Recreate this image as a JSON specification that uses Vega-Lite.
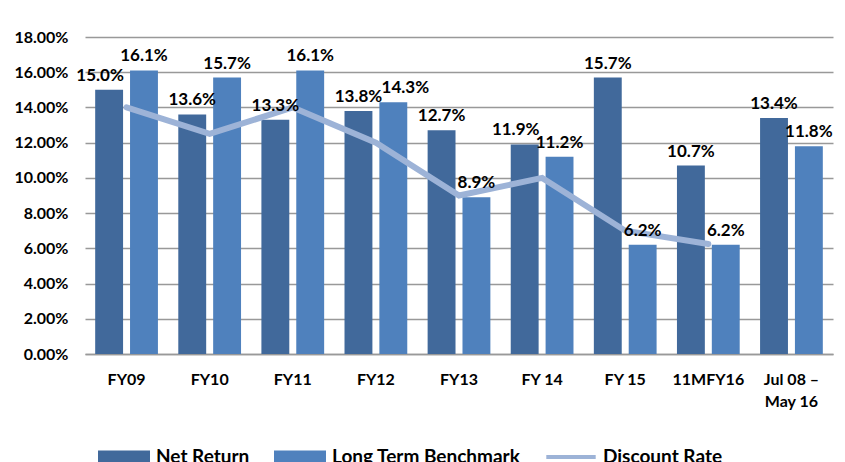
{
  "$schema": "https://vega.github.io/schema/vega-lite/v6.json",
  "width": 748,
  "height": 317,
  "autosize": {"type": "none"},
  "padding": {"left": 85, "top": 37, "right": 12, "bottom": 108},
  "config": {"font": "Lato", "view": {"stroke": null}},
  "datasets": {
    "bars": [
      {"period": "FY09", "series": "Net Return", "value": 0.150},
      {"period": "FY09", "series": "Long Term Benchmark", "value": 0.161},
      {"period": "FY10", "series": "Net Return", "value": 0.136},
      {"period": "FY10", "series": "Long Term Benchmark", "value": 0.157},
      {"period": "FY11", "series": "Net Return", "value": 0.133},
      {"period": "FY11", "series": "Long Term Benchmark", "value": 0.161},
      {"period": "FY12", "series": "Net Return", "value": 0.138},
      {"period": "FY12", "series": "Long Term Benchmark", "value": 0.143},
      {"period": "FY13", "series": "Net Return", "value": 0.127},
      {"period": "FY13", "series": "Long Term Benchmark", "value": 0.089},
      {"period": "FY 14", "series": "Net Return", "value": 0.119},
      {"period": "FY 14", "series": "Long Term Benchmark", "value": 0.112},
      {"period": "FY 15", "series": "Net Return", "value": 0.157},
      {"period": "FY 15", "series": "Long Term Benchmark", "value": 0.062},
      {"period": "11MFY16", "series": "Net Return", "value": 0.107},
      {"period": "11MFY16", "series": "Long Term Benchmark", "value": 0.062},
      {"period": "Jul 08 – May 16", "series": "Net Return", "value": 0.134},
      {"period": "Jul 08 – May 16", "series": "Long Term Benchmark", "value": 0.118}
    ],
    "rate": [
      {"period": "FY09", "series": "Discount Rate", "value": 0.14},
      {"period": "FY10", "series": "Discount Rate", "value": 0.125},
      {"period": "FY11", "series": "Discount Rate", "value": 0.14},
      {"period": "FY12", "series": "Discount Rate", "value": 0.12},
      {"period": "FY13", "series": "Discount Rate", "value": 0.09},
      {"period": "FY 14", "series": "Discount Rate", "value": 0.10},
      {"period": "FY 15", "series": "Discount Rate", "value": 0.07},
      {"period": "11MFY16", "series": "Discount Rate", "value": 0.0625}
    ]
  },
  "encoding": {
    "x": {
      "field": "period",
      "type": "nominal",
      "sort": ["FY09", "FY10", "FY11", "FY12", "FY13", "FY 14", "FY 15", "11MFY16", "Jul 08 – May 16"],
      "scale": {"paddingInner": 0.245, "paddingOuter": 0.1225},
      "axis": {
        "title": null,
        "labelAngle": 0,
        "labelFontSize": 16,
        "labelFontWeight": "bold",
        "labelColor": "#000000",
        "labelPadding": 17,
        "labelBaseline": "top",
        "labelLineHeight": 22,
        "labelExpr": "datum.label == 'Jul 08 – May 16' ? ['Jul 08 –', 'May 16'] : datum.label",
        "ticks": false,
        "domain": true,
        "domainColor": "#999999",
        "domainWidth": 1.5,
        "grid": false
      }
    },
    "y": {
      "field": "value",
      "type": "quantitative",
      "scale": {"domain": [0, 0.18], "nice": false},
      "axis": {
        "title": null,
        "values": [0, 0.02, 0.04, 0.06, 0.08, 0.10, 0.12, 0.14, 0.16, 0.18],
        "format": ".2%",
        "labelFontSize": 16,
        "labelFontWeight": "bold",
        "labelColor": "#000000",
        "labelPadding": 17,
        "ticks": false,
        "domain": false,
        "grid": true,
        "gridColor": "#999999",
        "gridWidth": 1.5
      }
    },
    "xOffset": {
      "field": "series",
      "type": "nominal",
      "sort": ["Net Return", "Long Term Benchmark"],
      "scale": {"paddingInner": 0.2, "paddingOuter": 0}
    }
  },
  "layer": [
    {
      "data": {"name": "bars"},
      "mark": {"type": "bar"},
      "encoding": {
        "color": {
          "field": "series",
          "type": "nominal",
          "scale": {
            "domain": ["Net Return", "Long Term Benchmark", "Discount Rate"],
            "range": ["#41699B", "#4F81BD", "#9DB3D7"]
          },
          "legend": {
            "title": null,
            "orient": "none",
            "direction": "horizontal",
            "legendX": 13,
            "legendY": 394,
            "labelFontSize": 19,
            "labelFontWeight": "bold",
            "labelColor": "#000000",
            "labelLimit": 400,
            "labelOffset": 6,
            "columnPadding": 24,
            "symbolSize": 2704,
            "symbolStrokeWidth": 0,
            "symbolType": "M-1,-0.25H1V0.25H-1Z",
            "encode": {
              "symbols": {
                "update": {
                  "shape": {"signal": "datum.value == 'Discount Rate' ? 'M-0.95,-0.08H0.95V0.08H-0.95Z' : 'M-1,-0.25H1V0.25H-1Z'"}
                }
              }
            }
          }
        }
      }
    },
    {
      "data": {"name": "rate"},
      "mark": {"type": "line", "color": "#9DB3D7", "strokeWidth": 6, "strokeCap": "round", "strokeJoin": "miter"},
      "encoding": {"xOffset": null}
    },
    {
      "data": {"name": "bars"},
      "transform": [{"filter": "!((datum.period == 'FY12' && datum.series == 'Long Term Benchmark') || (datum.period == 'FY 14' && datum.series == 'Net Return') || (datum.period == 'FY09' && datum.series == 'Net Return'))"}],
      "mark": {"type": "text", "baseline": "bottom", "dy": -5, "fontSize": 17, "fontWeight": "bold", "color": "#000000"},
      "encoding": {
        "text": {"field": "value", "type": "quantitative", "format": ".1%"}
      }
    },
    {
      "data": {"name": "bars"},
      "transform": [{"filter": "datum.period == 'FY12' && datum.series == 'Long Term Benchmark'"}],
      "mark": {"type": "text", "baseline": "bottom", "dy": -5, "dx": 12, "fontSize": 17, "fontWeight": "bold", "color": "#000000"},
      "encoding": {
        "text": {"field": "value", "type": "quantitative", "format": ".1%"}
      }
    },
    {
      "data": {"name": "bars"},
      "transform": [{"filter": "(datum.period == 'FY 14' && datum.series == 'Net Return') || (datum.period == 'FY09' && datum.series == 'Net Return')"}],
      "mark": {"type": "text", "baseline": "bottom", "dy": -5, "dx": -9, "fontSize": 17, "fontWeight": "bold", "color": "#000000"},
      "encoding": {
        "text": {"field": "value", "type": "quantitative", "format": ".1%"}
      }
    }
  ]
}
